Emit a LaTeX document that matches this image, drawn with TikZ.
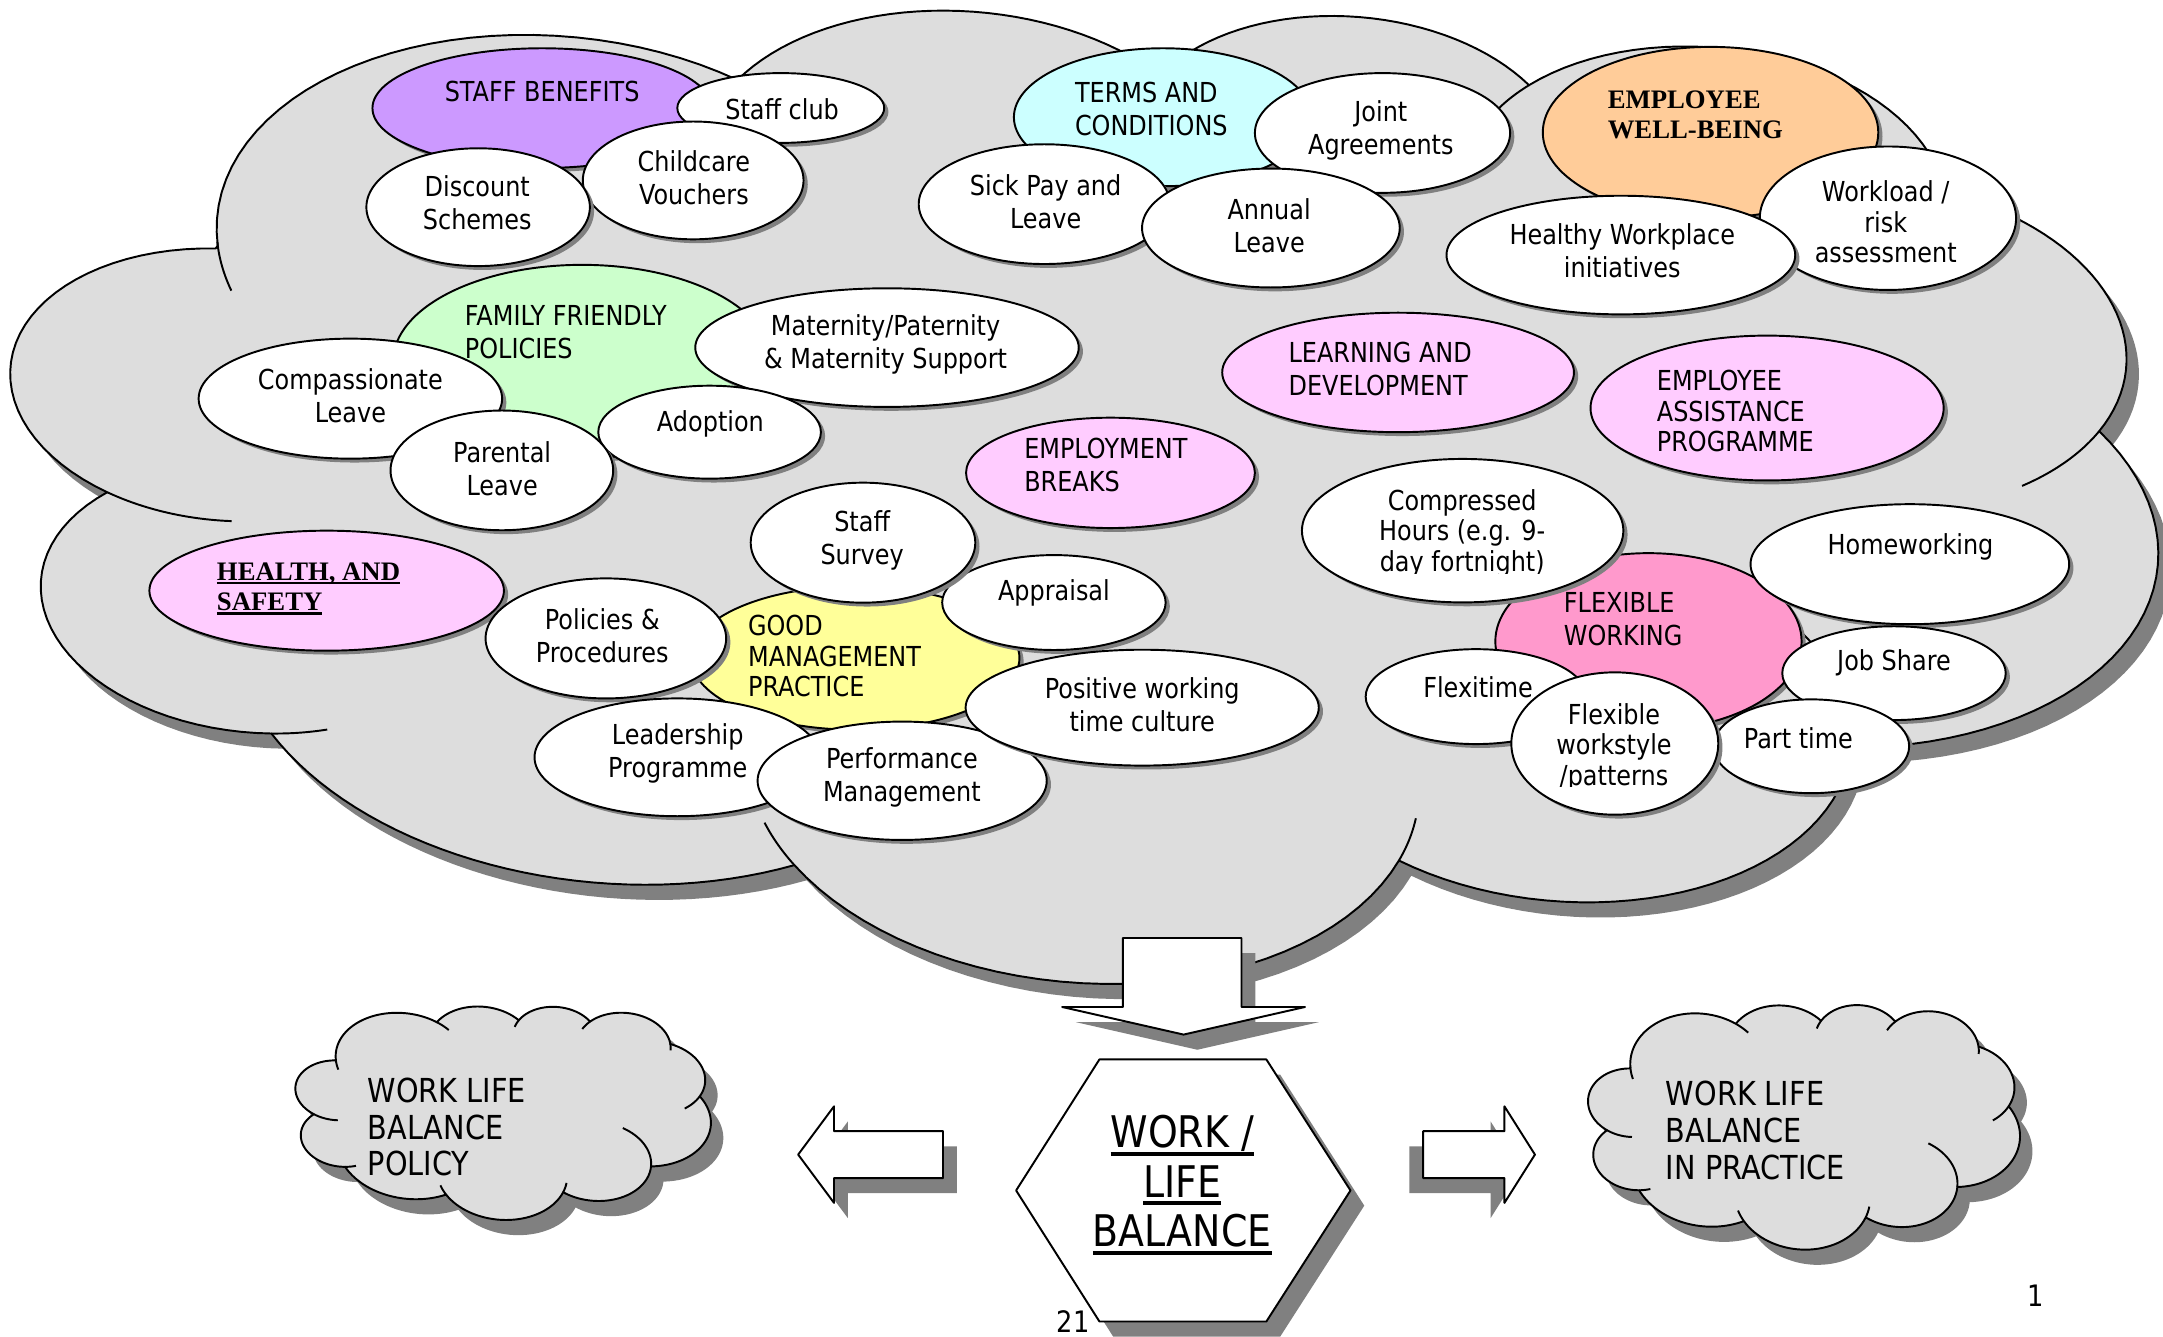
\documentclass[tikz,border=0pt]{standalone}
\usepackage{fontspec}
\setmainfont{DejaVu Sans}[FakeStretch=0.87]
\newfontfamily\timesfam{Liberation Serif}
\usetikzlibrary{shapes.geometric,shadows}

\definecolor{cloudgray}{HTML}{DDDDDD}
\definecolor{shadowgray}{HTML}{808080}
\definecolor{cbenefit}{HTML}{CC99FF}
\definecolor{cterms}{HTML}{CCFFFF}
\definecolor{cwell}{HTML}{FFCC99}
\definecolor{cfamily}{HTML}{CCFFCC}
\definecolor{cpink}{HTML}{FFCCFF}
\definecolor{cgood}{HTML}{FFFF99}
\definecolor{cflex}{HTML}{FF99CC}

\newcommand\fnorm{\fontsize{7.83pt}{9.39pt}\selectfont}
\newcommand\fthree{\fontsize{7.83pt}{8.7pt}\selectfont}
\newcommand\thickul[1]{\setbox0\hbox{#1}\rlap{\rule[-2.25pt]{\wd0}{1.1pt}}\box0}
\newcommand\thinul[1]{\setbox0\hbox{#1}\rlap{\rule[-1.15pt]{\wd0}{0.75pt}}\box0}

% cloud outline in a 432 x 432 frame
\newcommand\cloudoutline[1]{%
  \path[#1] plot[domain=-187.746:-59.64] ({105.914+67.53*cos(\x)},{131.314+91.90*sin(\x)})
  -- plot[domain=-152.037:-45.44] ({187.156+53.33*cos(\x)},{86.089+72.67*sin(\x)})
  -- plot[domain=-153.50:-37.33] ({263.634+43.65*cos(\x)},{60.834+59.45*sin(\x)})
  -- plot[domain=-139.72:-10.21] ({335.404+48.57*cos(\x)},{67.423+65.95*sin(\x)})
  -- plot[domain=-74.77:23.21] ({369.196+53.33*cos(\x)},{125.909+72.73*sin(\x)})
  -- plot[domain=-37.52:81.86] ({364.47+67.75*cos(\x)},{210.716+92.20*sin(\x)})
  -- plot[domain=0.4596:121.98] ({316.21+57.85*cos(\x)},{301.357+78.67*sin(\x)})
  -- plot[domain=16.845:146.23] ({220.947+67.52*cos(\x)},{341.388+92.15*sin(\x)})
  -- plot[domain=58.98:150.20] ({125.037+77.20*cos(\x)},{302.255+105.43*sin(\x)})
  -- plot[domain=83.31:223.10] ({52.967+43.60*cos(\x)},{295.873+59.18*sin(\x)})
  -- plot[domain=120.36:264.11] ({43.085+43.45*cos(\x)},{204.154+59.45*sin(\x)})
  -- cycle;}
\newcommand\cloudstubs[1]{%
  \draw[#1] plot[domain=85.55:120.36] ({43.085+43.45*cos(\x)},{204.154+59.45*sin(\x)});
  \draw[#1] plot[domain=68.23:83.31] ({52.967+43.60*cos(\x)},{295.873+59.18*sin(\x)});
  \draw[#1] plot[domain=146.23:158.48] ({220.947+67.52*cos(\x)},{341.388+92.15*sin(\x)});
  \draw[#1] plot[domain=4.74:16.85] ({220.947+67.52*cos(\x)},{341.388+92.15*sin(\x)});
  \draw[#1] plot[domain=-64.03:0.46] ({316.21+57.85*cos(\x)},{301.357+78.67*sin(\x)});
  \draw[#1] plot[domain=23.21:49.64] ({369.196+53.33*cos(\x)},{125.909+72.73*sin(\x)});
  \draw[#1] plot[domain=-10.21:0.82] ({335.404+48.57*cos(\x)},{67.423+65.95*sin(\x)});
  \draw[#1] plot[domain=-156.29:-139.72] ({335.404+48.57*cos(\x)},{67.423+65.95*sin(\x)});
  \draw[#1] plot[domain=-167.73:-153.50] ({263.634+43.65*cos(\x)},{60.834+59.45*sin(\x)});
  \draw[#1] plot[domain=-59.64:-45.72] ({105.914+67.53*cos(\x)},{131.314+91.90*sin(\x)});
  \draw[#1] plot[domain=159.94:173.22] ({105.914+67.53*cos(\x)},{131.314+91.90*sin(\x)});}
\newcommand\mscloud[4]{%
  \begin{scope}[shift={(#1+9,#2+11)}, rotate=-4.88, x=#3, y=-#4, shift={(-216,-216)}, samples=36]
    \cloudoutline{fill=shadowgray}
  \end{scope}
  \begin{scope}[shift={(#1,#2)}, rotate=-4.88, x=#3, y=-#4, shift={(-216,-216)}, samples=36]
    \cloudoutline{fill=cloudgray, draw=black}
    \cloudstubs{black}
  \end{scope}}

\tikzset{
  bub/.style={ellipse, draw=black, line width=0.55pt, inner sep=0pt,
    drop shadow={shadow xshift=1.2pt, shadow yshift=-1.1pt, fill=shadowgray, opacity=1}},
  txt/.style={inner sep=0pt, align=center, font=\fnorm},
  txtl/.style={inner sep=0pt, align=left, font=\fnorm, anchor=west},
  txtiii/.style={inner sep=0pt, align=center, font=\fthree},
  txtliii/.style={inner sep=0pt, align=left, font=\fthree, anchor=west},
  blockshape/.style={draw=black, fill=white, line width=0.55pt},
  shadowshape/.style={fill=shadowgray},
  cloudtext/.style={inner sep=0pt, align=left, anchor=west, font=\fontsize{9.4pt}{10.5pt}\selectfont},
}
\newcommand\bub[6]{\node[bub, fill=#2, minimum width={2*#5*0.013795cm}, minimum height={2*#6*0.013795cm}] (#1) at (#3,#4) {};}

\begin{document}
\begin{tikzpicture}[x=0.013795cm, y=-0.013795cm, line width=0.55pt, line join=round]
\useasboundingbox (0,0) rectangle (1568,969);

% ---------- big cloud ----------
\mscloud{785}{351.7}{0.049847cm}{0.022832cm}

% ---------- staff benefits ----------
\bub{sb}{cbenefit}{393}{78.4}{123}{43.4}
\node[txt] (sbt) at (393,66) {STAFF BENEFITS};
\bub{sc}{white}{566}{78.3}{75}{25.3}
\node[txt] (sct) at (567,79) {Staff club};
\bub{cv}{white}{502.5}{130.8}{80}{42.7}
\node[txt] (cvt) at (503,128.8) {Childcare\\Vouchers};
\bub{ds}{white}{346.6}{150.2}{81}{42.7}
\node[txt] (dst) at (346,147.2) {Discount\\Schemes};

% ---------- terms and conditions ----------
\bub{tc}{cterms}{843}{85}{108}{50}
\node[txtl] (tct) at (778.6,78.7) {TERMS AND\\CONDITIONS};
\bub{sp}{white}{757}{148}{91}{43.4}
\node[txt] (spt) at (758,146.3) {Sick Pay and\\Leave};
\bub{ja}{white}{1002.2}{96.4}{92.5}{43.4}
\node[txt] (jat) at (1001,94.2) {Joint\\Agreements};
\bub{al}{white}{921.3}{165.3}{93.4}{43.1}
\node[txt] (alt) at (920,163.7) {Annual\\Leave};

% ---------- employee well-being ----------
\bub{ew}{cwell}{1240}{96}{121.6}{62}
\node[inner sep=0pt, align=left, anchor=west, font=\timesfam\bfseries\fontsize{7.6pt}{8.5pt}\selectfont] (ewt) at (1164.8,83.4) {EMPLOYEE\\WELL-BEING};
\bub{wl}{white}{1368.6}{158.2}{92.9}{52}
\node[txtiii] (wlt) at (1367,160.8) {Workload /\\risk\\assessment};
\bub{hw}{white}{1175}{184.9}{126.4}{43}
\node[txt] (hwt) at (1176,182) {Healthy Workplace\\initiatives};

% ---------- family friendly ----------
\bub{ff}{cfamily}{422}{262}{137}{70}
\node[txtl] (fft) at (336.3,240.8) {FAMILY FRIENDLY\\POLICIES};
\bub{mp}{white}{643}{252}{139}{43}
\node[txt] (mpt) at (642,250) {Maternity/Paternity\\\& Maternity Support};
\bub{cl}{white}{254}{289}{110}{43.5}
\node[txt] (clt) at (254,286.8) {Compassionate\\Leave};
\bub{ad}{white}{514.4}{313.3}{80.7}{33.7}
\node[txt] (adt) at (515,307.6) {Adoption};
\bub{pl}{white}{363.8}{341}{80.7}{43.4}
\node[txt] (plt) at (364,339.6) {Parental\\Leave};

% ---------- single headers ----------
\bub{ld}{cpink}{1013.5}{270}{127.5}{43.3}
\node[txtl] (ldt) at (933.4,267.7) {LEARNING AND\\DEVELOPMENT};
\bub{eap}{cpink}{1281}{295.8}{128}{52.5}
\node[txtliii] (eapt) at (1200.4,298) {EMPLOYEE\\ASSISTANCE\\PROGRAMME};
\bub{eb}{cpink}{805}{342.8}{104.7}{40}
\node[txtl] (ebt) at (741.8,337.4) {EMPLOYMENT\\BREAKS};
\bub{hs}{cpink}{236.8}{428.2}{128.5}{43.5}
\node[inner sep=0pt, align=left, anchor=west, font=\timesfam\bfseries\fontsize{7.6pt}{8.7pt}\selectfont] (hst) at (156.6,426.8) {\thinul{HEALTH, AND}\\\thinul{SAFETY}};

% ---------- good management practice ----------
\bub{gm}{cgood}{620}{477}{119}{52}
\node[txtliii] (gmt) at (541.6,475.6) {GOOD\\MANAGEMENT\\PRACTICE};
\bub{pp}{white}{439.2}{462.8}{87.2}{43.5}
\node[txt] (ppt) at (436.6,461) {Policies \&\\Procedures};
\bub{lp}{white}{491}{549}{103.5}{42.7}
\node[txt] (lpt) at (491.3,546) {Leadership\\Programme};
\bub{ap}{white}{764}{436.8}{81}{34.4}
\node[txt] (apt) at (764,430) {Appraisal};
\bub{ss}{white}{625.6}{393.4}{81.4}{43.5}
\node[txt] (sst) at (625,391.5) {Staff\\Survey};
\bub{pm}{white}{654}{566}{104.8}{42.9}
\node[txt] (pmt) at (653.8,563.7) {Performance\\Management};
\bub{pw}{white}{828}{513}{128}{42}
\node[txt] (pwt) at (828,511) {Positive working\\time culture};

% ---------- flexible working ----------
\bub{fw}{cflex}{1195}{465}{111}{64}
\node[txtl] (fwt) at (1133,448.8) {FLEXIBLE\\WORKING};
\bub{ch}{white}{1060.3}{384.7}{116.5}{52}
\begin{scope}
  \clip (940,330) rectangle (1180,415.6);
  \node[txtiii] (cht) at (1060,386.6) {Compressed\\Hours (e.g. 9-\\day fortnight)};
\end{scope}
\bub{hm}{white}{1384.5}{409}{115.5}{43.5}
\node[txt] (hmt) at (1385,396.8) {Homeworking};
\bub{js}{white}{1373}{488}{81}{34}
\node[txt] (jst) at (1373,480.8) {Job Share};
\bub{ft}{white}{1070}{505}{80}{34.4}
\node[txt] (ftt) at (1071.5,498.2) {Flexitime};
\bub{pt}{white}{1313}{541}{71}{34}
\node[txt] (ptt) at (1303.7,535) {Part time};
\bub{fx}{white}{1170.6}{539}{75}{51.6}
\begin{scope}
  \clip (1090,485) rectangle (1250,570.3);
  \node[txtiii] (fxt) at (1170,541.8) {Flexible\\workstyle\\/patterns};
\end{scope}

% ---------- down arrow ----------
\fill[shadowshape] (824,691) -- (910,691) -- (910,741) -- (956,741) -- (868,761) -- (780,741) -- (824,741) -- cycle;
\draw[blockshape] (814,680) -- (900,680) -- (900,730) -- (946,730) -- (858,750) -- (770,730) -- (814,730) -- cycle;

% ---------- left arrow ----------
\fill[shadowshape] (588.6,848) -- (614.6,813) -- (614.6,831) -- (693.6,831) -- (693.6,865) -- (614.6,865) -- (614.6,883) -- cycle;
\draw[blockshape] (578.6,837) -- (604.6,802) -- (604.6,820) -- (683.6,820) -- (683.6,854) -- (604.6,854) -- (604.6,872) -- cycle;

% ---------- right arrow ----------
\fill[shadowshape] (1021.6,831) -- (1080.6,831) -- (1080.6,813) -- (1102.7,848) -- (1080.6,883) -- (1080.6,865) -- (1021.6,865) -- cycle;
\draw[blockshape] (1031.6,820) -- (1090.6,820) -- (1090.6,802) -- (1112.7,837) -- (1090.6,872) -- (1090.6,854) -- (1031.6,854) -- cycle;

% ---------- hexagon ----------
\fill[shadowshape] (807,779) -- (928,779) -- (989,874) -- (928,969) -- (807,969) -- (746.6,874) -- cycle;
\draw[blockshape] (797,768) -- (918,768) -- (979,863) -- (918,958) -- (797,958) -- (736.6,863) -- cycle;
\node[inner sep=0pt, align=center, font=\fontsize{12.4pt}{14.1pt}\selectfont] (wlb) at (857,859) {\thickul{WORK /}\\\thickul{LIFE}\\\thickul{BALANCE}};

% ---------- small clouds ----------
\mscloud{364.5}{805}{0.0096437cm}{0.0050135cm}
\node[cloudtext] (wlp) at (266,817) {WORK LIFE\\BALANCE\\POLICY};
\mscloud{1307.5}{815}{0.0100269cm}{0.0057479cm}
\node[cloudtext] (wlip) at (1207,819.7) {WORK LIFE\\BALANCE\\IN PRACTICE};

% ---------- page numbers ----------
\node[inner sep=0pt, font=\fontsize{8.4pt}{10pt}\selectfont] (pgone) at (1475.5,939.4) {1};
\node[inner sep=0pt, anchor=south, font=\fontsize{8.4pt}{10pt}\selectfont] (pgtwo) at (778,966.5) {21};
\end{tikzpicture}
\end{document}
